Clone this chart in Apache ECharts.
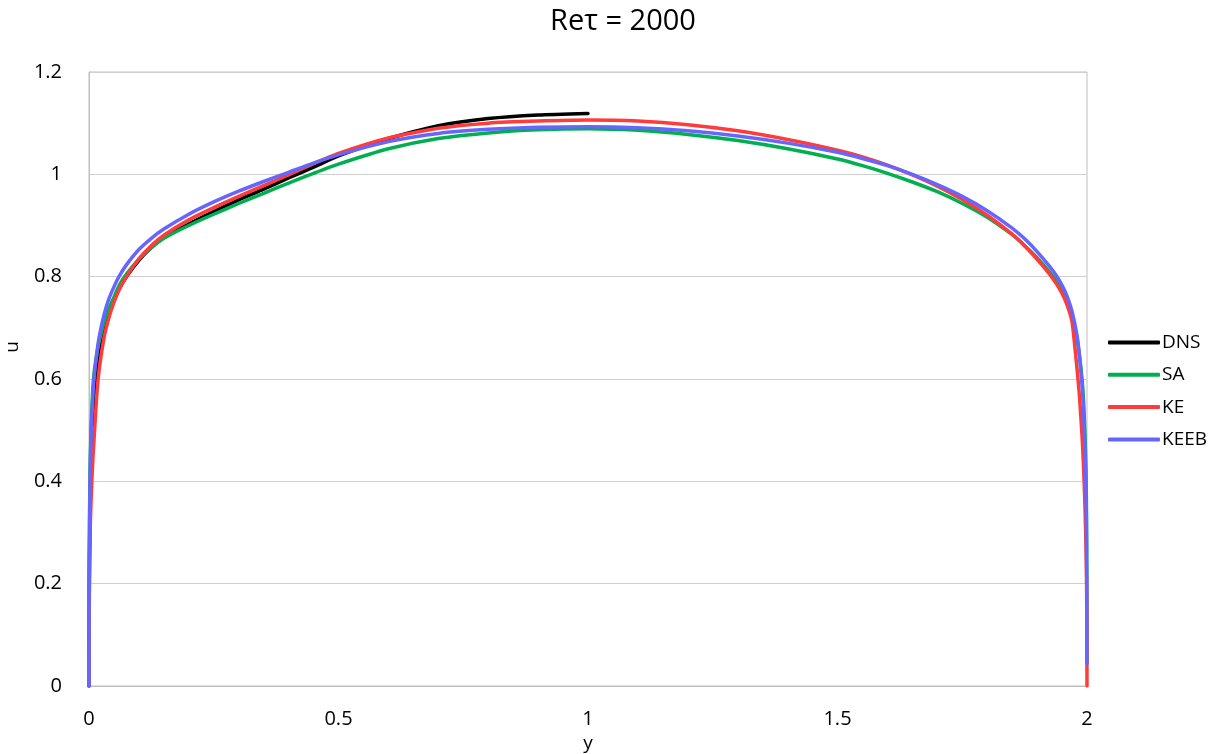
<!DOCTYPE html>
<html>
<head>
<meta charset="utf-8">
<script src="https://cdn.jsdelivr.net/npm/echarts@6/dist/echarts.min.js"></script>
<style>
html,body{margin:0;padding:0;background:#fff;overflow:hidden;}
#chart{width:1229px;height:754px;}
</style>
</head>
<body>
<div id="chart"></div>
<script>
// wall-normal positions y (shared by all series)
const yPos = [0, 0.0005, 0.001, 0.002, 0.004, 0.007, 0.01, 0.015, 0.02, 0.03, 0.04, 0.05, 0.06, 0.075, 0.1, 0.125, 0.15, 0.2, 0.25, 0.3, 0.35, 0.4, 0.45, 0.5, 0.6, 0.7, 0.8, 0.9, 1.0,
  1.1, 1.2, 1.3, 1.4, 1.5, 1.55, 1.6, 1.65, 1.7, 1.75, 1.8, 1.85, 1.875, 1.9, 1.925, 1.94, 1.95, 1.96, 1.97, 1.98, 1.985, 1.99, 1.993, 1.996, 1.998, 1.999, 1.9995, 2.0];

// DNS only covers the lower half of the channel (first 29 positions)
const dnsU = [0, 0.17, 0.25, 0.33, 0.42, 0.50, 0.55, 0.60, 0.64, 0.69, 0.725, 0.752, 0.775, 0.80, 0.832, 0.857, 0.876, 0.903, 0.927, 0.950, 0.971, 0.993, 1.014, 1.036, 1.070, 1.095, 1.109, 1.116, 1.119];

const saU = [0, 0.22, 0.32, 0.41, 0.50, 0.57, 0.61, 0.645, 0.672, 0.71, 0.738, 0.76, 0.782, 0.805, 0.834, 0.857, 0.875, 0.900, 0.922, 0.943, 0.963, 0.983, 1.002, 1.020, 1.050, 1.070, 1.081, 1.087, 1.089,
  1.086, 1.078, 1.066, 1.050, 1.030, 1.017, 1.002, 0.985, 0.966, 0.943, 0.916, 0.882, 0.861, 0.837, 0.809, 0.790, 0.774, 0.753, 0.724, 0.680, 0.645, 0.60, 0.56, 0.49, 0.42, 0.34, 0.24, 0.044];

const keU = [0, 0.15, 0.22, 0.29, 0.36, 0.43, 0.48, 0.56, 0.615, 0.68, 0.72, 0.75, 0.774, 0.80, 0.835, 0.861, 0.881, 0.911, 0.935, 0.957, 0.978, 0.999, 1.021, 1.041, 1.071, 1.090, 1.100, 1.104, 1.106,
  1.104, 1.097, 1.085, 1.068, 1.047, 1.034, 1.018, 0.999, 0.977, 0.951, 0.920, 0.883, 0.860, 0.834, 0.805, 0.784, 0.767, 0.745, 0.712, 0.62, 0.565, 0.49, 0.43, 0.35, 0.27, 0.21, 0.15, 0];

const keebU = [0, 0.20, 0.30, 0.40, 0.49, 0.555, 0.60, 0.645, 0.68, 0.725, 0.757, 0.780, 0.800, 0.823, 0.853, 0.875, 0.893, 0.922, 0.946, 0.967, 0.986, 1.004, 1.022, 1.038, 1.064, 1.080, 1.088, 1.092, 1.093,
  1.091, 1.085, 1.075, 1.061, 1.043, 1.031, 1.017, 1.000, 0.980, 0.957, 0.929, 0.895, 0.874, 0.849, 0.820, 0.800, 0.783, 0.762, 0.732, 0.685, 0.645, 0.59, 0.54, 0.46, 0.38, 0.29, 0.20, 0.044];

const seriesNames = ['DNS', 'SA', 'KE', 'KEEB'];
const seriesColors = ['#000000', '#00B050', '#FF3B3B', '#6666FF'];
const xTicks = ['0', '0.5', '1', '1.5', '2'];
const yTicks = ['0', '0.2', '0.4', '0.6', '0.8', '1', '1.2'];
const titleText = 'Re\u03C4 = 2000';

const allU = [dnsU, saU, keU, keebU];
const FONT = '"Open Sans", "Noto Sans", sans-serif';

const series = allU.map((u, i) => ({
  name: seriesNames[i],
  type: 'line',
  data: u.map((v, k) => [yPos[k], v]),
  showSymbol: false,
  symbol: 'none',
  smooth: 0.2,
  lineStyle: { color: seriesColors[i], width: 3.5, cap: 'round', join: 'round' },
  itemStyle: { color: seriesColors[i] },
  emphasis: { disabled: true },
  z: 2 + i
}));

const chart = echarts.init(document.getElementById('chart'), null, { renderer: 'canvas' });
chart.setOption({
  animation: false,
  backgroundColor: '#ffffff',
  title: {
    text: titleText,
    left: 545,
    top: 2,
    textStyle: { fontFamily: FONT, fontSize: 29, fontWeight: 'normal', color: '#000' }
  },
  legend: {
    orient: 'vertical',
    left: 1103,
    top: 328,
    icon: 'roundRect',
    itemWidth: 52,
    itemHeight: 4,
    itemGap: 13.3,
    data: seriesNames,
    textStyle: { fontFamily: FONT, fontSize: 19, color: '#000', padding: [0, 0, 0, -3] }
  },
  grid: {
    left: 89, right: 142, top: 72, bottom: 68,
    show: true,
    borderColor: '#bfbfbf',
    borderWidth: 1,
    containLabel: false,
    outerBoundsMode: 'none'
  },
  xAxis: {
    type: 'value',
    min: 0, max: 2, interval: 0.5,
    name: 'y',
    nameLocation: 'middle',
    nameGap: 47,
    nameTextStyle: { fontFamily: FONT, fontSize: 19, color: '#000' },
    axisLine: { show: true, lineStyle: { color: '#bfbfbf', width: 1 } },
    axisTick: { show: false },
    splitLine: { show: false },
    axisLabel: {
      fontFamily: FONT, fontSize: 20, color: '#000', margin: 23,
      formatter: (v) => xTicks[Math.round(v / 0.5)] ?? ''
    }
  },
  yAxis: {
    type: 'value',
    min: 0, max: 1.2, interval: 0.2,
    name: 'u',
    nameLocation: 'middle',
    nameGap: 67,
    nameRotate: 90,
    nameTextStyle: { fontFamily: FONT, fontSize: 19, color: '#000', padding: [0, 0, 0, 64] },
    axisLine: { show: true, lineStyle: { color: '#bfbfbf', width: 1 } },
    axisTick: { show: false },
    splitLine: { show: true, lineStyle: { color: '#d0d0d0', width: 1 } },
    axisLabel: {
      fontFamily: FONT, fontSize: 20, color: '#000', margin: 27,
      formatter: (v) => yTicks[Math.round(v / 0.2)] ?? ''
    }
  },
  series: series
});
</script>
</body>
</html>
